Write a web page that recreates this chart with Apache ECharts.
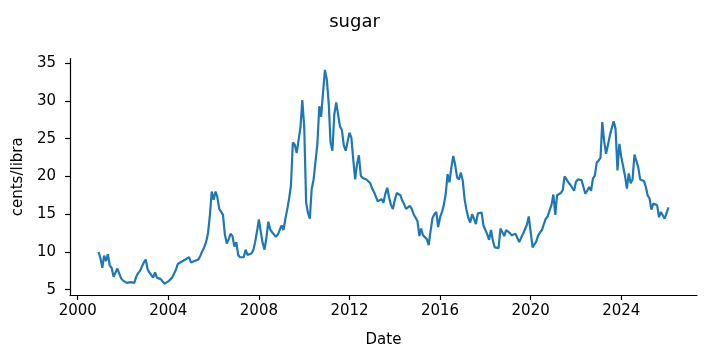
<!DOCTYPE html>
<html><head><meta charset="utf-8">
<script src="https://cdn.jsdelivr.net/npm/echarts@6/dist/echarts.min.js"></script>
<style>html,body{margin:0;padding:0;background:#fff}#c{width:709px;height:361px}</style>
</head><body><div id="c"></div>
<script>
// Monthly sugar prices (cents/libra), first value = December 2000
const p2000 = [10.0];
const p2001 = [9.2, 7.9, 9.5, 8.8, 9.7, 8.2, 7.9, 6.7, 6.7, 7.8, 7.6, 6.5];
const p2002 = [6.2, 6.0, 5.9, 5.8, 6.0, 6.0, 5.9, 6.7, 7.2, 7.5, 7.7, 8.6];
const p2003 = [9.0, 7.7, 7.3, 7.1, 6.6, 7.3, 6.6, 6.4, 6.4, 6.4, 5.8, 5.9];
const p2004 = [6.1, 6.3, 6.6, 7.1, 7.6, 8.4, 8.2, 8.7, 8.8, 9.0, 9.2, 9.3];
const p2005 = [8.6, 8.7, 8.8, 8.7, 9.0, 9.5, 10.1, 10.6, 11.3, 12.4, 14.8, 18.0];
const p2006 = [16.9, 18.0, 17.3, 15.7, 15.8, 14.9, 12.3, 11.1, 11.7, 12.4, 12.1, 10.7];
const p2007 = [11.3, 9.6, 9.3, 9.2, 9.3, 10.3, 9.6, 9.7, 9.8, 10.2, 11.3, 12.7];
const p2008 = [14.3, 12.6, 11.2, 10.3, 11.9, 14.0, 13.0, 12.6, 12.5, 12.0, 12.3, 12.9];
const p2009 = [13.5, 12.9, 14.3, 15.6, 17.0, 18.8, 24.5, 24.2, 23.1, 23.0, 26.5, 30.1];
const p2010 = [26.5, 16.5, 15.2, 14.4, 18.3, 19.6, 19.8, 24.3, 29.3, 27.9, 31.2, 34.1];
const p2011 = [32.8, 29.5, 24.5, 23.4, 28.2, 29.8, 29.7, 26.6, 26.1, 24.1, 23.4, 23.6];
const p2012 = [25.8, 25.1, 22.3, 19.6, 21.6, 22.8, 20.1, 19.8, 19.7, 19.6, 19.7, 19.1];
const p2013 = [18.4, 17.9, 17.7, 16.7, 16.6, 17.0, 16.5, 17.7, 18.5, 17.2, 16.2, 15.7];
const p2014 = [16.9, 17.8, 17.6, 17.5, 16.8, 16.3, 15.7, 15.5, 16.1, 15.7, 15.0, 14.8];
const p2015 = [14.1, 12.1, 13.1, 12.2, 12.3, 11.7, 10.9, 12.8, 14.5, 15.0, 15.3, 13.3];
const p2016 = [14.6, 15.3, 16.2, 17.7, 20.3, 19.2, 21.2, 22.7, 21.5, 19.9, 19.6, 20.5];
const p2017 = [19.4, 16.9, 15.6, 14.5, 13.9, 15.0, 14.4, 13.7, 15.1, 15.2, 15.2, 13.5];
const p2018 = [13.4, 12.3, 11.6, 12.9, 11.5, 10.6, 10.5, 10.5, 13.1, 12.9, 12.1, 12.9];
const p2019 = [12.8, 12.5, 12.2, 12.3, 12.4, 12.3, 11.3, 11.9, 12.4, 13.0, 13.6, 14.7];
const p2020 = [14.6, 10.6, 10.5, 11.4, 12.2, 12.6, 12.9, 13.7, 14.4, 14.7, 15.5, 16.2];
const p2021 = [17.6, 14.9, 17.5, 17.6, 17.8, 18.2, 20.0, 19.9, 19.2, 18.9, 19.0, 18.1];
const p2022 = [19.3, 19.6, 19.6, 19.5, 18.6, 17.7, 18.1, 18.6, 18.1, 19.7, 20.1, 21.8];
const p2023 = [22.1, 22.5, 27.2, 24.6, 23.0, 24.2, 25.4, 26.4, 27.3, 26.3, 20.8, 24.3];
const p2024 = [22.6, 22.5, 20.1, 18.4, 20.4, 19.1, 19.6, 22.9, 22.9, 21.2, 19.6, 19.6];
const p2025 = [19.4, 18.6, 17.5, 17.1, 15.6, 16.4, 16.4, 16.2, 14.6, 15.3, 15.1, 14.4];
const p2026 = [14.4, 15.9];

const startYear = 2000, startMonthIndex = 11; // December 2000
const xTickYears = [2000, 2004, 2008, 2012, 2016, 2020, 2024];
const yTicks = [5, 10, 15, 20, 25, 30, 35];

const prices = [].concat(p2000, p2001, p2002, p2003, p2004, p2005, p2006, p2007, p2008,
  p2009, p2010, p2011, p2012, p2013, p2014, p2015, p2016, p2017, p2018, p2019, p2020,
  p2021, p2022, p2023, p2024, p2025, p2026);
const dates = prices.map((_, i) => Date.UTC(startYear, startMonthIndex + i, 1));
const seriesData = prices.map((v, i) => [dates[i], v]);
const t0 = dates[0], t1 = dates[dates.length - 1];
const xPad = (t1 - t0) * 0.05;
const xTickValues = xTickYears.map(y => Date.UTC(y, 0, 1));

const FONT = 'DejaVu Sans';
const chart = echarts.init(document.getElementById('c'), null, {renderer: 'canvas'});
chart.setOption({
  animation: false,
  backgroundColor: '#fff',
  title: {
    text: 'sugar', left: 'center', top: 8,
    textStyle: {fontFamily: FONT, fontSize: 18, fontWeight: 'normal', color: '#000'}
  },
  grid: {left: 70, right: 12, top: 58.6, bottom: 66, containLabel: false, outerBoundsMode: 'none'},
  xAxis: {
    type: 'value', min: t0 - xPad, max: t1 + xPad,
    name: 'Date', nameLocation: 'middle', nameGap: 38,
    nameTextStyle: {fontFamily: FONT, fontSize: 15, color: '#000'},
    axisLine: {onZero: false, lineStyle: {color: '#000', width: 1.2}},
    axisTick: {show: true, length: 5, lineStyle: {color: '#000', width: 1.2}, customValues: xTickValues},
    axisLabel: {customValues: xTickValues, margin: 9, fontFamily: FONT, fontSize: 15, color: '#000',
      formatter: v => String(new Date(v).getUTCFullYear())},
    splitLine: {show: false}
  },
  yAxis: {
    type: 'value', min: 4.3, max: 35.6,
    name: 'cents/libra', nameLocation: 'middle', nameGap: 38, nameRotate: 90,
    nameTextStyle: {fontFamily: FONT, fontSize: 15, color: '#000'},
    axisLine: {show: true, onZero: false, lineStyle: {color: '#000', width: 1.2}},
    axisTick: {show: true, length: 5, lineStyle: {color: '#000', width: 1.2}, customValues: yTicks},
    axisLabel: {customValues: yTicks, margin: 14, fontFamily: FONT, fontSize: 15, color: '#000'},
    splitLine: {show: false}
  },
  series: [{
    type: 'line', data: seriesData, showSymbol: false, symbol: 'none',
    lineStyle: {color: '#1f77b4', width: 2.2}, itemStyle: {color: '#1f77b4'}
  }]
});
</script></body></html>
